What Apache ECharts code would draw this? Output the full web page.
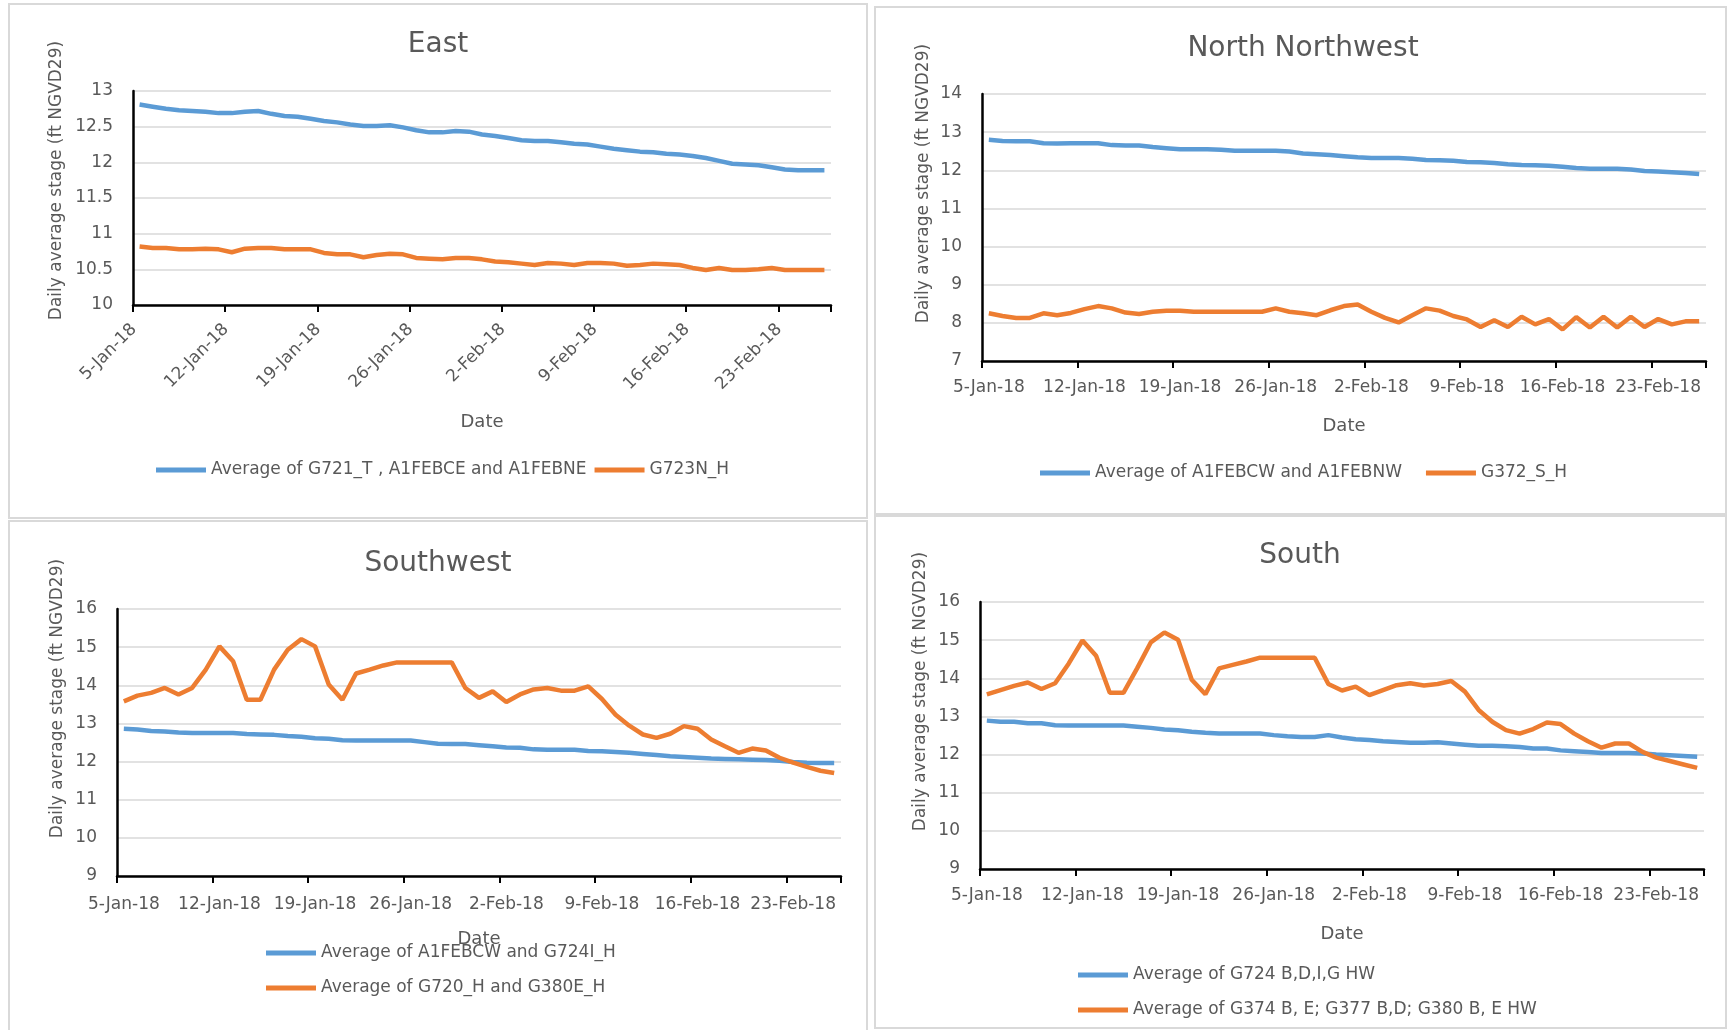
<!DOCTYPE html>
<html>
<head>
<meta charset="utf-8">
<script src="https://cdn.jsdelivr.net/npm/echarts@6/dist/echarts.min.js"></script>
<style>
html,body{margin:0;padding:0;background:#fff;}
#c{width:1729px;height:1030px;}
</style>
</head>
<body>
<div id="c"></div>
<script>
// ---------- DATA ----------
const dates = [
 '5-Jan-18','6-Jan-18','7-Jan-18','8-Jan-18','9-Jan-18','10-Jan-18','11-Jan-18','12-Jan-18','13-Jan-18','14-Jan-18',
 '15-Jan-18','16-Jan-18','17-Jan-18','18-Jan-18','19-Jan-18','20-Jan-18','21-Jan-18','22-Jan-18','23-Jan-18','24-Jan-18',
 '25-Jan-18','26-Jan-18','27-Jan-18','28-Jan-18','29-Jan-18','30-Jan-18','31-Jan-18','1-Feb-18','2-Feb-18','3-Feb-18',
 '4-Feb-18','5-Feb-18','6-Feb-18','7-Feb-18','8-Feb-18','9-Feb-18','10-Feb-18','11-Feb-18','12-Feb-18','13-Feb-18',
 '14-Feb-18','15-Feb-18','16-Feb-18','17-Feb-18','18-Feb-18','19-Feb-18','20-Feb-18','21-Feb-18','22-Feb-18','23-Feb-18',
 '24-Feb-18','25-Feb-18','26-Feb-18'
];

// East
const eastAvgG721 = [12.81,12.78,12.75,12.73,12.72,12.71,12.69,12.69,12.71,12.72,12.68,12.65,12.64,12.61,12.58,12.56,12.53,12.51,12.51,12.52,
 12.49,12.45,12.42,12.42,12.44,12.43,12.39,12.37,12.34,12.31,12.30,12.30,12.28,12.26,12.25,12.22,12.19,12.17,12.15,12.14,
 12.12,12.11,12.09,12.06,12.02,11.98,11.97,11.96,11.93,11.90,11.89,11.89,11.89];
const eastG723N = [10.82,10.80,10.80,10.78,10.78,10.79,10.78,10.74,10.79,10.80,10.80,10.78,10.78,10.78,10.73,10.71,10.71,10.67,10.70,10.72,
 10.71,10.66,10.65,10.64,10.66,10.66,10.64,10.61,10.60,10.58,10.56,10.59,10.58,10.56,10.59,10.59,10.58,10.55,10.56,10.58,
 10.57,10.56,10.52,10.49,10.52,10.49,10.49,10.50,10.52,10.49,10.49,10.49,10.49];

// North Northwest
const nnwAvgA1FEB = [12.80,12.77,12.76,12.76,12.71,12.70,12.71,12.71,12.71,12.66,12.65,12.65,12.61,12.58,12.55,12.55,12.55,12.54,12.51,12.51,
 12.51,12.51,12.49,12.44,12.42,12.40,12.37,12.34,12.32,12.32,12.32,12.30,12.27,12.26,12.25,12.22,12.21,12.19,12.16,12.14,
 12.13,12.12,12.09,12.06,12.04,12.04,12.04,12.02,11.98,11.97,11.95,11.93,11.90];
const nnwG372 = [8.25,8.18,8.13,8.13,8.25,8.20,8.26,8.36,8.44,8.38,8.27,8.23,8.29,8.32,8.32,8.29,8.29,8.29,8.29,8.29,
 8.29,8.38,8.29,8.25,8.20,8.33,8.44,8.48,8.29,8.13,8.01,8.20,8.38,8.32,8.18,8.09,7.89,8.07,7.89,8.16,
 7.96,8.10,7.83,8.15,7.88,8.16,7.88,8.16,7.89,8.10,7.96,8.04,8.04];

// Southwest
const swAvgA1FEBCW = [12.86,12.84,12.80,12.79,12.76,12.75,12.75,12.75,12.75,12.72,12.71,12.70,12.67,12.65,12.61,12.60,12.56,12.55,12.55,12.55,
 12.55,12.55,12.51,12.47,12.46,12.46,12.43,12.40,12.37,12.36,12.32,12.31,12.31,12.31,12.28,12.27,12.25,12.23,12.20,12.17,
 12.14,12.12,12.10,12.08,12.07,12.06,12.05,12.04,12.02,11.99,11.97,11.96,11.96];
const swAvgG720 = [13.58,13.73,13.80,13.93,13.76,13.93,14.41,15.02,14.63,13.62,13.62,14.41,14.93,15.21,15.02,14.02,13.62,14.31,14.41,14.52,
 14.60,14.60,14.60,14.60,14.60,13.93,13.67,13.84,13.56,13.76,13.89,13.93,13.86,13.86,13.97,13.64,13.23,12.94,12.71,12.62,
 12.73,12.93,12.86,12.58,12.40,12.23,12.34,12.29,12.10,11.97,11.86,11.76,11.70];

// South
const southAvgG724 = [12.89,12.86,12.86,12.82,12.82,12.77,12.76,12.76,12.76,12.76,12.76,12.73,12.70,12.66,12.64,12.60,12.57,12.55,12.55,12.55,
 12.55,12.51,12.48,12.46,12.46,12.51,12.45,12.40,12.38,12.35,12.33,12.31,12.31,12.32,12.29,12.26,12.23,12.23,12.22,12.20,
 12.16,12.16,12.11,12.09,12.07,12.04,12.04,12.04,12.03,12.00,11.98,11.96,11.94];
const southAvgG374 = [13.58,13.69,13.80,13.89,13.72,13.87,14.39,14.99,14.59,13.62,13.62,14.26,14.94,15.20,15.01,13.96,13.58,14.26,14.35,14.44,
 14.54,14.54,14.54,14.54,14.54,13.85,13.68,13.78,13.56,13.69,13.82,13.87,13.81,13.85,13.93,13.65,13.17,12.86,12.64,12.55,
 12.67,12.84,12.80,12.55,12.35,12.18,12.29,12.29,12.07,11.92,11.83,11.74,11.65];

// Y-axis tick labels
const eastYTicks = [10, 10.5, 11, 11.5, 12, 12.5, 13];
const nnwYTicks = [7, 8, 9, 10, 11, 12, 13, 14];
const swYTicks = [9, 10, 11, 12, 13, 14, 15, 16];
const southYTicks = [9, 10, 11, 12, 13, 14, 15, 16];

const titles = ['East', 'North Northwest', 'Southwest', 'South'];
const seriesNames = [
  ['Average of G721_T , A1FEBCE and A1FEBNE', 'G723N_H'],
  ['Average of A1FEBCW and A1FEBNW', 'G372_S_H'],
  ['Average of A1FEBCW and G724I_H', 'Average of G720_H and G380E_H'],
  ['Average of G724 B,D,I,G HW', 'Average of G374 B, E; G377 B,D; G380 B, E HW']
];
const seriesData = [
  [eastAvgG721, eastG723N],
  [nnwAvgA1FEB, nnwG372],
  [swAvgA1FEBCW, swAvgG720],
  [southAvgG724, southAvgG374]
];
const yTicks = [eastYTicks, nnwYTicks, swYTicks, southYTicks];
const yName = 'Daily average stage (ft NGVD29)';
const xName = 'Date';

// ---------- LAYOUT / STYLE ----------
const FONT = 'DejaVu Sans';
const TXT = '#595959';
const COLORS = ['#5B9BD5', '#ED7D31'];

const layout = [
  {tx: 438, ty: 28, grid: {left: 133, top: 91, width: 698, height: 214}, rot: 45, lblMargin: 16, lblPad: [0, 8, 0, 0],
   yGap: 68, yPad: 35, xGap: 108, legend: {left: 156, top: 460, orient: 'horizontal', itemGap: 8}},
  {tx: 1303, ty: 32, grid: {left: 982, top: 94, width: 724, height: 267}, rot: 0, lblMargin: 18, lblPad: 0,
   yGap: 50, yPad: 88, xGap: 56, legend: {left: 1040, top: 463, orient: 'horizontal', itemGap: 24}},
  {tx: 438, ty: 547, grid: {left: 117, top: 609, width: 724, height: 267}, rot: 0, lblMargin: 20, lblPad: 0,
   yGap: 51, yPad: 88, xGap: 54, legend: {left: 266, top: 943, orient: 'vertical', itemGap: 15}},
  {tx: 1300, ty: 539, grid: {left: 980, top: 602, width: 724, height: 267}, rot: 0, lblMargin: 18, lblPad: 0,
   yGap: 51, yPad: 88, xGap: 56, legend: {left: 1078, top: 965, orient: 'vertical', itemGap: 15}}
];

const borders = [
  [9, 4, 858, 514],
  [875, 7, 851, 507],
  [9, 521, 858, 515],
  [875, 516, 851, 512]
];

const option = {
  animation: false,
  backgroundColor: '#ffffff',
  title: [], legend: [], grid: [], xAxis: [], yAxis: [], series: [],
  graphic: borders.map(b => ({
    type: 'rect', silent: true,
    shape: {x: b[0], y: b[1], width: b[2], height: b[3]},
    style: {fill: 'none', stroke: '#d9d9d9', lineWidth: 2}
  }))
};

layout.forEach((L, p) => {
  option.title.push({
    text: titles[p], left: L.tx, top: L.ty, textAlign: 'center', padding: 0,
    textStyle: {fontFamily: FONT, fontSize: 28, fontWeight: 'normal', color: TXT, lineHeight: 34}
  });
  option.grid.push(Object.assign({containLabel: false, outerBoundsMode: 'none'}, L.grid));
  option.legend.push({
    data: seriesNames[p], orient: L.legend.orient, left: L.legend.left, top: L.legend.top,
    itemGap: L.legend.itemGap, itemWidth: 50, itemHeight: 5, icon: 'rect', padding: 0,
    selectedMode: false,
    textStyle: {fontFamily: FONT, fontSize: 17, color: TXT, lineHeight: 20}
  });
  option.xAxis.push({
    type: 'category', gridIndex: p, data: dates, boundaryGap: true,
    name: xName, nameLocation: 'middle', nameGap: L.xGap,
    nameTextStyle: {fontFamily: FONT, fontSize: 18, color: TXT},
    axisLine: {show: true, onZero: false, lineStyle: {color: '#000', width: 2.5}},
    axisTick: {show: true, interval: 6, length: 7, lineStyle: {color: '#000', width: 2}},
    axisLabel: {interval: 6, rotate: L.rot, margin: L.lblMargin, padding: L.lblPad,
                fontFamily: FONT, fontSize: 17, color: TXT},
    splitLine: {show: false}
  });
  const t = yTicks[p];
  option.yAxis.push({
    type: 'value', gridIndex: p, min: t[0], max: t[t.length - 1], interval: t[1] - t[0],
    name: yName, nameLocation: 'middle', nameGap: L.yGap,
    nameTextStyle: {fontFamily: FONT, fontSize: 17, color: TXT, padding: [0, 0, 0, L.yPad]},
    axisLine: {show: true, lineStyle: {color: '#000', width: 2.5}},
    axisTick: {show: false},
    axisLabel: {margin: 20, fontFamily: FONT, fontSize: 17, color: TXT, formatter: v => String(v)},
    splitLine: {show: true, lineStyle: {color: '#d9d9d9', width: 1.5}}
  });
  seriesData[p].forEach((d, k) => {
    option.series.push({
      type: 'line', name: seriesNames[p][k], xAxisIndex: p, yAxisIndex: p, data: d,
      symbol: 'none', showSymbol: false, smooth: false,
      lineStyle: {width: 4.5, color: COLORS[k]}, itemStyle: {color: COLORS[k]},
      emphasis: {disabled: true}, z: 2 + k
    });
  });
});

const chart = echarts.init(document.getElementById('c'), null, {renderer: 'canvas'});
chart.setOption(option);
</script>
</body>
</html>
